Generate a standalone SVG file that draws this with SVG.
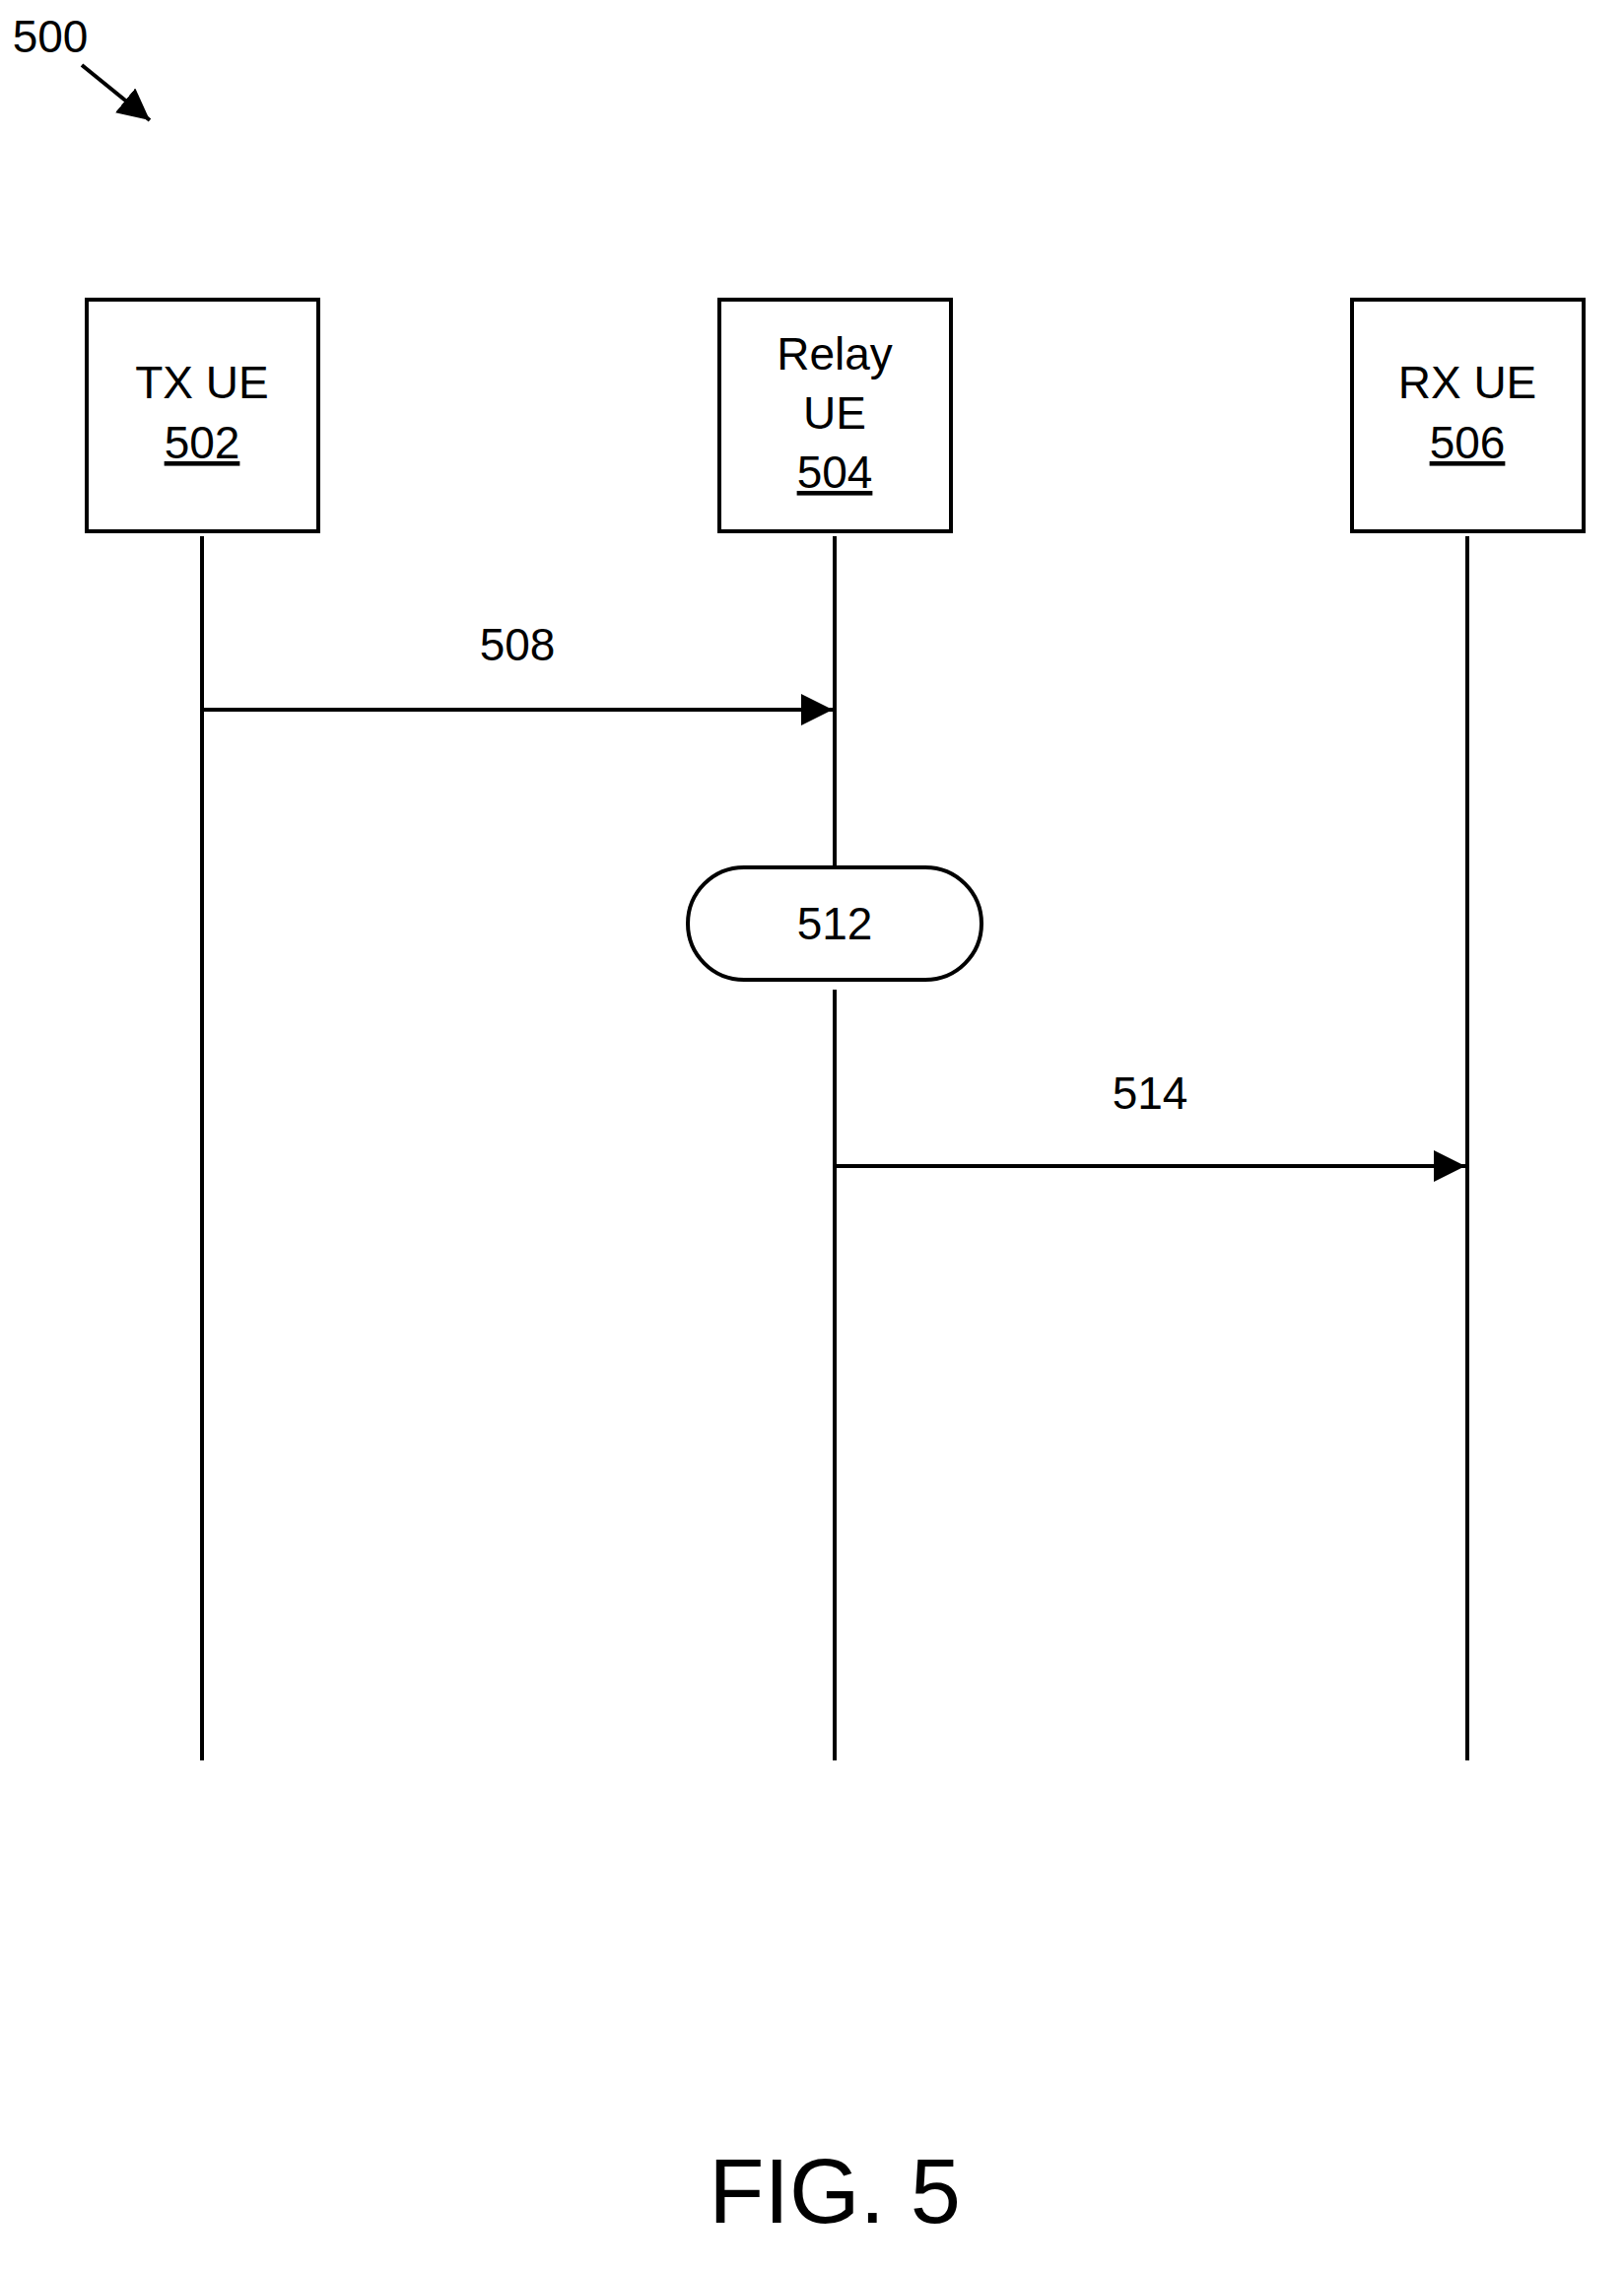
<svg xmlns="http://www.w3.org/2000/svg" width="1648" height="2305" viewBox="0 0 1648 2305">
<defs>
<style>
text{font-family:"Liberation Sans",Arial,sans-serif;font-size:46px;fill:#000;text-anchor:middle}
.b{fill:#fff;stroke:#000;stroke-width:4}
.l{stroke:#000;stroke-width:4;fill:none}
</style>
<marker id="ah" viewBox="0 0 10 10" refX="10" refY="5" markerWidth="7" markerHeight="7" markerUnits="userSpaceOnUse" orient="auto"><path d="M0,0L10,5L0,10z"/></marker>
<marker id="ah2" viewBox="0 0 10 10" refX="10" refY="5" markerWidth="8" markerHeight="8" orient="auto"><path d="M0,0L10,5L0,10z"/></marker>
</defs>
<rect width="1648" height="2305" fill="#fff"/>
<text x="51" y="53" style="text-anchor:middle">500</text>
<g id="connectors">
<line class="l" x1="83" y1="66" x2="152" y2="122" marker-end="url(#ah2)"/>
<line class="l" x1="205" y1="544" x2="205" y2="1786"/>
<line class="l" x1="847" y1="544" x2="847" y2="889"/>
<line class="l" x1="847" y1="1004" x2="847" y2="1786"/>
<line class="l" x1="1489" y1="544" x2="1489" y2="1786"/>
<line class="l" x1="205" y1="720" x2="845" y2="720" marker-end="url(#ah2)"/>
<text x="525" y="670">508</text>
<line class="l" x1="847" y1="1183" x2="1487" y2="1183" marker-end="url(#ah2)"/>
<text x="1167" y="1125">514</text>
</g>
<g id="tx"><rect class="b" x="88" y="304" width="235" height="235"/><text x="205" y="404">TX UE</text><text x="205" y="465" text-decoration="underline">502</text></g>
<g id="relay"><rect class="b" x="730" y="304" width="235" height="235"/><text x="847" y="375">Relay</text><text x="847" y="435">UE</text><text x="847" y="495" text-decoration="underline">504</text></g>
<g id="rx"><rect class="b" x="1372" y="304" width="235" height="235"/><text x="1489" y="404">RX UE</text><text x="1489" y="465" text-decoration="underline">506</text></g>
<g id="n512"><rect class="b" x="698" y="880" width="298" height="114" rx="57"/><text x="847" y="953">512</text></g>
<text x="847" y="2255" style="font-size:92px">FIG. 5</text>
</svg>
